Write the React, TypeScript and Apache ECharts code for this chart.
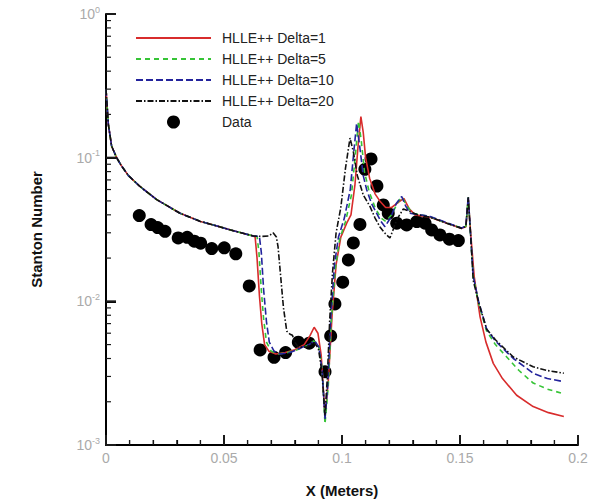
import React, { useEffect, useRef } from "react";
import * as echarts from "echarts";

const seriesNames = ["HLLE++ Delta=1", "HLLE++ Delta=5", "HLLE++ Delta=10", "HLLE++ Delta=20", "Data"];

// shared upstream part of all four computed curves
const upstream: number[][] = [
  [0, 0.30], [0.001, 0.17], [0.0024, 0.12], [0.0045, 0.1], [0.0065, 0.088], [0.0095, 0.075],
  [0.0144, 0.063], [0.0215, 0.051], [0.0314, 0.041], [0.04, 0.036], [0.0455, 0.034],
  [0.054, 0.031], [0.0624, 0.0285],
];
const delta1: number[][] = [
  [0.0632, 0.028], [0.064, 0.02], [0.065, 0.011], [0.066, 0.007], [0.0672, 0.005], [0.069, 0.0045],
  [0.072, 0.0043], [0.076, 0.0044], [0.08, 0.0046], [0.084, 0.005], [0.0865, 0.0058], [0.0882, 0.0066],
  [0.0898, 0.006], [0.0912, 0.0042], [0.0928, 0.0016], [0.0942, 0.0028], [0.0958, 0.008], [0.0975, 0.018],
  [0.0995, 0.028], [0.102, 0.035], [0.1038, 0.04], [0.1055, 0.065], [0.1068, 0.12], [0.108, 0.193],
  [0.109, 0.15], [0.11, 0.1], [0.1117, 0.072], [0.114, 0.056], [0.116, 0.05], [0.1185, 0.045],
  [0.121, 0.045], [0.124, 0.049], [0.1262, 0.052], [0.1285, 0.044], [0.131, 0.04], [0.1373, 0.0385],
  [0.1444, 0.035], [0.1507, 0.0322], [0.1525, 0.033], [0.1535, 0.052], [0.1545, 0.03], [0.156, 0.015],
  [0.1585, 0.0078], [0.161, 0.0052], [0.1641, 0.0037], [0.168, 0.0029], [0.174, 0.00222],
  [0.181, 0.00185], [0.1875, 0.00168], [0.194, 0.00158],
];
const delta5: number[][] = [
  [0.064, 0.0283], [0.0648, 0.022], [0.0658, 0.012], [0.0668, 0.0075], [0.068, 0.0052], [0.07, 0.0045],
  [0.073, 0.0043], [0.077, 0.0044], [0.081, 0.0046], [0.085, 0.0049], [0.088, 0.0053], [0.09, 0.005],
  [0.0915, 0.0035], [0.0928, 0.0014], [0.0942, 0.0026], [0.0955, 0.0075], [0.0972, 0.017], [0.099, 0.027],
  [0.1015, 0.036], [0.104, 0.055], [0.1058, 0.11], [0.107, 0.18], [0.1082, 0.13], [0.1095, 0.08],
  [0.1115, 0.058], [0.114, 0.045], [0.1165, 0.038], [0.1185, 0.036], [0.121, 0.04], [0.124, 0.05],
  [0.1255, 0.053], [0.1275, 0.046], [0.13, 0.041], [0.1373, 0.0388], [0.1444, 0.035], [0.1507, 0.0324],
  [0.1525, 0.0333], [0.1535, 0.053], [0.1545, 0.028], [0.1556, 0.015], [0.158, 0.0095], [0.1613, 0.0062],
  [0.165, 0.005], [0.1698, 0.0041], [0.175, 0.0033], [0.181, 0.0027], [0.187, 0.00245], [0.194, 0.00227],
];
const delta10: number[][] = [
  [0.065, 0.0283], [0.0658, 0.022], [0.0668, 0.012], [0.068, 0.0072], [0.0692, 0.0052], [0.0712, 0.0045],
  [0.074, 0.0043], [0.078, 0.0044], [0.082, 0.0047], [0.086, 0.005], [0.0885, 0.0053], [0.0902, 0.0048],
  [0.0916, 0.0033], [0.0928, 0.0015], [0.094, 0.0027], [0.0952, 0.0075], [0.0968, 0.018], [0.0985, 0.028],
  [0.101, 0.038], [0.1035, 0.06], [0.105, 0.11], [0.1062, 0.173], [0.1075, 0.12], [0.109, 0.075],
  [0.1105, 0.0595], [0.1125, 0.048], [0.1147, 0.041], [0.1165, 0.036], [0.1182, 0.0331], [0.1205, 0.038],
  [0.123, 0.048], [0.1253, 0.0537], [0.127, 0.046], [0.1288, 0.041], [0.1373, 0.039], [0.1444, 0.0352],
  [0.1507, 0.0324], [0.1525, 0.0335], [0.1535, 0.054], [0.1545, 0.029], [0.1556, 0.015], [0.158, 0.0098],
  [0.1613, 0.0064], [0.165, 0.0053], [0.17, 0.0044], [0.1726, 0.004], [0.181, 0.00316], [0.187, 0.0029],
  [0.194, 0.00276],
];
const delta20: number[][] = [
  [0.066, 0.0283], [0.069, 0.0285], [0.0708, 0.03], [0.0722, 0.028], [0.0729, 0.024], [0.074, 0.015],
  [0.0752, 0.009], [0.0766, 0.0062], [0.078, 0.0059], [0.079, 0.0058], [0.08, 0.0052], [0.0815, 0.0048],
  [0.085, 0.0048], [0.088, 0.0052], [0.09, 0.0047], [0.0915, 0.0032], [0.0928, 0.0016], [0.0938, 0.003],
  [0.0948, 0.0075], [0.096, 0.016], [0.0975, 0.03], [0.0995, 0.045], [0.1015, 0.085], [0.1034, 0.137],
  [0.1048, 0.11], [0.1065, 0.075], [0.109, 0.055], [0.1119, 0.0456], [0.114, 0.038], [0.116, 0.0331],
  [0.118, 0.03], [0.1203, 0.0276], [0.1215, 0.031], [0.1232, 0.037], [0.126, 0.044], [0.129, 0.042],
  [0.132, 0.04], [0.1373, 0.0385], [0.1444, 0.035], [0.1507, 0.0322], [0.1525, 0.0333], [0.1535, 0.053],
  [0.1545, 0.029], [0.1556, 0.014], [0.158, 0.0097], [0.1613, 0.0064], [0.165, 0.0054], [0.17, 0.0045],
  [0.1726, 0.0041], [0.181, 0.0035], [0.187, 0.0033], [0.194, 0.00316],
];
const measured: number[][] = [
  [0.0141, 0.0395], [0.0191, 0.0342], [0.0219, 0.0326], [0.025, 0.0307], [0.0306, 0.0276], [0.0344, 0.0279],
  [0.0374, 0.0262], [0.0401, 0.0254], [0.0448, 0.0233], [0.0501, 0.0236], [0.055, 0.0214], [0.0607, 0.0128],
  [0.0653, 0.00459], [0.0712, 0.00408], [0.0761, 0.0044], [0.0815, 0.00519], [0.0861, 0.00511],
  [0.0928, 0.00324], [0.0952, 0.00574], [0.097, 0.00959], [0.1003, 0.01358], [0.1027, 0.0194],
  [0.1048, 0.0255], [0.1076, 0.0343], [0.1097, 0.083], [0.1123, 0.0979], [0.1148, 0.0635], [0.1175, 0.0469],
  [0.1196, 0.041], [0.1232, 0.035], [0.1274, 0.034], [0.1317, 0.0359], [0.1352, 0.035], [0.138, 0.0314],
  [0.1415, 0.029], [0.1455, 0.0271], [0.1493, 0.0265],
];

const xMajorTicks = [0, 0.05, 0.1, 0.15, 0.2];
const xMinorTicks = [
  0.01, 0.02, 0.03, 0.04, 0.06, 0.07, 0.08, 0.09, 0.11, 0.12, 0.13, 0.14, 0.16, 0.17, 0.18, 0.19,
];
const yMajorTicks = [0.001, 0.01, 0.1, 1];
const yMinorTicks = [
  0.002, 0.003, 0.004, 0.005, 0.006, 0.007, 0.008, 0.009,
  0.02, 0.03, 0.04, 0.05, 0.06, 0.07, 0.08, 0.09,
  0.2, 0.3, 0.4, 0.5, 0.6, 0.7, 0.8, 0.9,
];
const yTickLabels: Record<string, string> = { "1": "0", "0.1": "-1", "0.01": "-2", "0.001": "-3" };

const FONT = "Liberation Sans";

export default function App() {
  const ref = useRef<HTMLDivElement>(null);
  useEffect(() => {
    if (!ref.current) return;
    const chart = echarts.init(ref.current, null, { renderer: "svg" });
    const lineBase = (name: string, data: number[][], color: string, type: any) => ({
      name,
      type: "line",
      data,
      symbol: "none",
      showSymbol: false,
      lineStyle: { color, width: 1.6, type },
      itemStyle: { color },
    });
    chart.setOption({
      animation: false,
      grid: { left: 106, right: 14, top: 14, bottom: 59 },
      legend: {
        orient: "vertical",
        left: 130,
        top: 26,
        itemWidth: 75,
        itemHeight: 13,
        itemGap: 7,
        data: seriesNames.map((n, i) =>
          i < 4 ? { name: n, itemStyle: { opacity: 0 } } : { name: n, itemStyle: { opacity: 1 } }
        ),
        textStyle: { fontFamily: FONT, fontSize: 14, color: "#222", padding: [0, 0, 0, 6] },
        selectedMode: false,
      },
      xAxis: {
        type: "value",
        min: 0,
        max: 0.2,
        interval: 0.05,
        name: "X (Meters)",
        nameLocation: "middle",
        nameGap: 38,
        nameTextStyle: { fontFamily: FONT, fontSize: 15, fontWeight: "bold", color: "#111" },
        axisLine: { show: true, lineStyle: { color: "#000", width: 2 } },
        axisTick: { show: true, inside: true, length: 10, lineStyle: { color: "#000", width: 2 } },
        minorTick: { show: true, splitNumber: 5, length: 5, lineStyle: { color: "#000", width: 1.2 } },
        splitLine: { show: false },
        axisLabel: { fontFamily: FONT, fontSize: 14, color: "#aaa", margin: 6 },
      },
      yAxis: {
        type: "log",
        logBase: 10,
        min: 0.001,
        max: 1,
        name: "Stanton Number",
        nameLocation: "middle",
        nameRotate: 90,
        nameGap: 62,
        nameTextStyle: { fontFamily: FONT, fontSize: 15, fontWeight: "bold", color: "#111" },
        axisLine: { show: true, lineStyle: { color: "#000", width: 2 } },
        axisTick: { show: true, inside: true, length: 10, lineStyle: { color: "#000", width: 2 } },
        splitLine: { show: false },
        axisLabel: {
          margin: 6,
          formatter: (v: number) => {
            const key = String(Number(v.toPrecision(3)));
            return `{b|10}{s|${yTickLabels[key] ?? ""}}`;
          },
          rich: {
            b: { fontFamily: FONT, fontSize: 14, color: "#aaa" },
            s: { fontFamily: FONT, fontSize: 9, color: "#aaa", padding: [0, 0, 9, 0] },
          },
        },
      },
      series: [
        lineBase(seriesNames[0], [...upstream, ...delta1], "#d82c2c", "solid"),
        lineBase(seriesNames[1], [...upstream, ...delta5], "#36c436", [5, 4]),
        lineBase(seriesNames[2], [...upstream, ...delta10], "#23239c", [7, 3]),
        lineBase(seriesNames[3], [...upstream, ...delta20], "#111", [6, 2, 1.5, 2]),
        {
          name: seriesNames[4],
          type: "scatter",
          data: measured,
          symbol: "circle",
          symbolSize: 13,
          itemStyle: { color: "#000", opacity: 1 },
        },
      ],
    });

    // tick marks placed through the chart's own scales
    try {
      const finder = { xAxisIndex: 0, yAxisIndex: 0 };
      const marks: any[] = [];
      const xTick = (v: number, len: number, w: number) => {
        const p = chart.convertToPixel(finder, [v, 0.001]) as number[];
        marks.push({
          type: "line", silent: true, z: 100,
          shape: { x1: p[0], y1: p[1], x2: p[0], y2: p[1] - len },
          style: { stroke: "#1a1a1a", lineWidth: w },
        });
      };
      const yTick = (v: number, len: number, w: number) => {
        const p = chart.convertToPixel(finder, [0, v]) as number[];
        marks.push({
          type: "line", silent: true, z: 100,
          shape: { x1: p[0], y1: p[1], x2: p[0] + len, y2: p[1] },
          style: { stroke: "#1a1a1a", lineWidth: w },
        });
      };
      xMajorTicks.forEach((v) => xTick(v, 10, 2));
      xMinorTicks.forEach((v) => xTick(v, 5, 1.2));
      yMajorTicks.forEach((v) => yTick(v, 10, 2));
      yMinorTicks.forEach((v) => yTick(v, 5, 1.2));
      chart.setOption({ graphic: marks });
    } catch (e) {
      // leave the chart as it is
    }
    return () => chart.dispose();
  }, []);
  return <div ref={ref} style={{ width: 592, height: 504, position: "absolute", left: 0, top: 0 }} />;
}
